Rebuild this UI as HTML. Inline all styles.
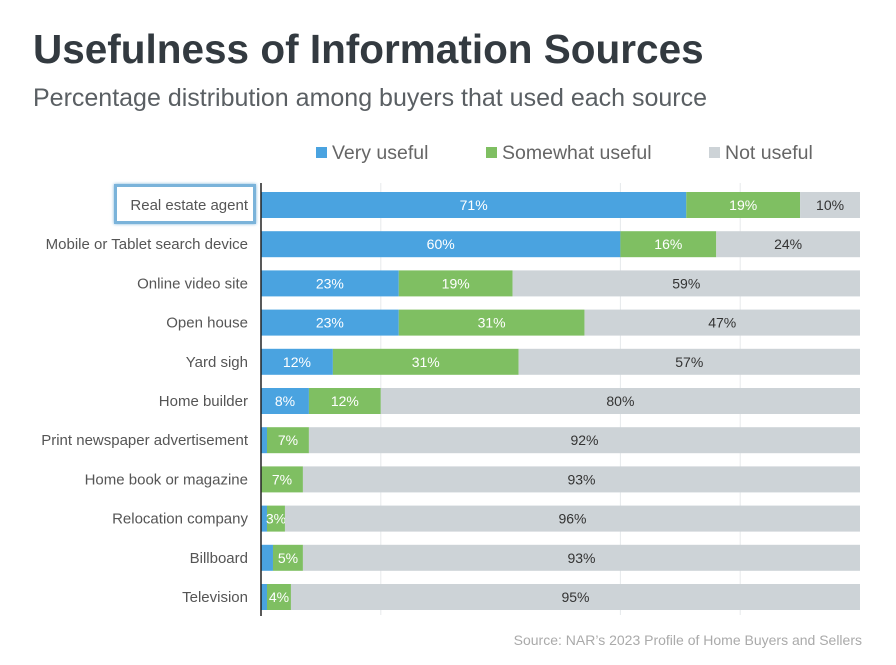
<!DOCTYPE html>
<html><head><meta charset="utf-8">
<style>
body{margin:0;width:896px;height:665px;background:#fff;font-family:"Liberation Sans",sans-serif;overflow:hidden;position:relative}
.t{position:absolute;left:33px;top:26px;font-size:40.5px;font-weight:bold;color:#333a40;margin:0}
.s{position:absolute;left:33px;top:84px;font-size:25px;color:#5a5f63}
.src{position:absolute;right:34px;top:632px;font-size:14px;color:#aaa}
.leg{position:absolute;top:142px;font-size:19.5px;color:#666}
.leg span{display:inline-block;width:11px;height:11px;margin-right:5px;vertical-align:1px}
</style></head><body>
<h1 class="t">Usefulness of Information Sources</h1>
<div class="s">Percentage distribution among buyers that used each source</div>
<div class="leg" style="left:316px"><span style="background:#4aa3e0"></span>Very useful</div>
<div class="leg" style="left:486px"><span style="background:#7fbf62"></span>Somewhat useful</div>
<div class="leg" style="left:709px"><span style="background:#cdd3d7"></span>Not useful</div>
<div style="position:absolute;left:114px;top:184px;width:136px;height:34px;border:3px solid #7ab3da;box-shadow:0 0 3px #7ab3da"></div>
<svg id="c" width="896" height="665" style="position:absolute;left:0;top:0"></svg>
<div class="src">Source: NAR’s 2023 Profile of Home Buyers and Sellers</div>
<script>
const categories=["Real estate agent","Mobile or Tablet search device","Online video site","Open house","Yard sigh","Home builder","Print newspaper advertisement","Home book or magazine","Relocation company","Billboard","Television"];
const veryUseful=[71,60,23,23,12,8,1,0,1,2,1];
const somewhatUseful=[19,16,19,31,31,12,7,7,3,5,4];
const notUseful=[10,24,59,47,57,80,92,93,96,93,95];
const gridTicks=[20,60,80];
const NS="http://www.w3.org/2000/svg";
const svg=document.getElementById('c');
const x0=261,pxPer=5.99;
const xs=v=>x0+Math.min(v,100)*pxPer;
const ys=i=>205+i*39.2;
const barH=26;
function el(t,a){const e=document.createElementNS(NS,t);for(const k in a)e.setAttribute(k,a[k]);svg.appendChild(e);return e;}
gridTicks.forEach(g=>{const l=el('line',{x1:xs(g),x2:xs(g),y1:183,y2:615,stroke:'#e6e9eb','stroke-width':1});

});
const series=[[veryUseful,'#4aa3e0','#fff','very'],[somewhatUseful,'#7fbf62','#fff','somewhat'],[notUseful,'#cdd3d7','#333','not']];
categories.forEach((c,i)=>{
  const lab=el('text',{x:248,y:ys(i)+5,'text-anchor':'end','font-size':15,fill:'#555'});
  lab.textContent=c;
  
  
  let acc=0;
  series.forEach(([arr,col,tc,nm])=>{
    const v=arr[i];
    if(v>0){
      const x1=xs(acc),x2=xs(acc+v);
      const r=el('rect',{x:x1,y:ys(i)-barH/2,width:Math.max(0,x2-x1),height:barH,fill:col});
      
      
      if(v>=3){
        const t=el('text',{x:(x1+x2)/2,y:ys(i)+5,'text-anchor':'middle','font-size':14,fill:tc});
        t.textContent=v+'%';
        
        
      }
    }
    acc+=v;
  });
});
const ax=el('line',{x1:x0,x2:x0,y1:183,y2:616,stroke:'#222','stroke-width':1.5});


</script>
</body></html>
